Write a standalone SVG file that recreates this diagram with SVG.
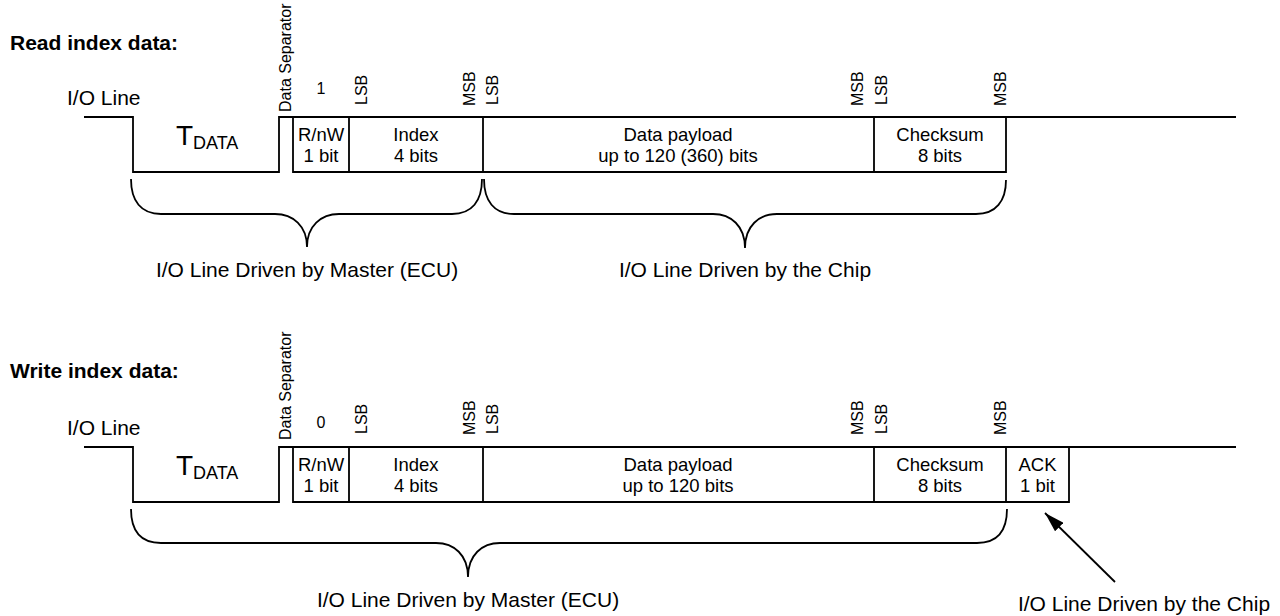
<svg xmlns="http://www.w3.org/2000/svg" width="1280" height="616" viewBox="0 0 1280 616">
<style>
text{font-family:"Liberation Sans",Arial,sans-serif;fill:#000}
.title{font-size:21px;font-weight:bold}
.lbl{font-size:21px}
.box{font-size:18.5px;text-anchor:middle}
.rot{font-size:16px}
.one{font-size:16px;text-anchor:middle}
.mid{text-anchor:middle}
.ln{fill:none;stroke:#000;stroke-width:1.8;stroke-linejoin:miter}
.br{fill:none;stroke:#000;stroke-width:1.8}
</style>
<defs>
<marker id="ah" viewBox="0 0 20 12" refX="20" refY="6" markerWidth="20" markerHeight="12" markerUnits="userSpaceOnUse" orient="auto">
<path d="M0,0 L20,6 L0,12 Z" fill="#000"/>
</marker>
</defs>
<rect width="1280" height="616" fill="#fff"/>

<g id="read">
<text class="title" x="10" y="50">Read index data:</text>
<text class="lbl" x="67" y="105">I/O Line</text>
<g id="read-wave">
<path class="ln" d="M84,117 H133 V172 H279 V117 H1236"/>
<path class="ln" d="M293,117 V172 H1006 V117"/>
<path class="ln" d="M349,117 V172 M483,117 V172 M874,117 V172"/>
</g>
<g id="read-tdata">
<text x="176" y="145" font-size="28">T</text>
<text x="193" y="149" font-size="18">DATA</text>
</g>
<g id="read-labels">
<text class="rot" transform="translate(291,112) rotate(-90)">Data Separator</text>
<text class="one" x="321" y="94">1</text>
<text class="rot" transform="translate(367,105) rotate(-90)">LSB</text>
<text class="rot" transform="translate(475,106) rotate(-90)">MSB</text>
<text class="rot" transform="translate(498,105) rotate(-90)">LSB</text>
<text class="rot" transform="translate(863,106) rotate(-90)">MSB</text>
<text class="rot" transform="translate(887,105) rotate(-90)">LSB</text>
<text class="rot" transform="translate(1006,106) rotate(-90)">MSB</text>
</g>
<g id="read-rnw"><text class="box" x="321" y="141">R/nW</text><text class="box" x="321" y="162">1 bit</text></g>
<g id="read-index"><text class="box" x="416" y="141">Index</text><text class="box" x="416" y="162">4 bits</text></g>
<g id="read-payload"><text class="box" x="678" y="141">Data payload</text><text class="box" x="678" y="162">up to 120 (360) bits</text></g>
<g id="read-checksum"><text class="box" x="940" y="141">Checksum</text><text class="box" x="940" y="162">8 bits</text></g>
<g id="read-master"><text class="lbl mid" x="307" y="277">I/O Line Driven by Master (ECU)</text></g>
<g id="read-chip"><text class="lbl mid" x="745" y="277">I/O Line Driven by the Chip</text></g>
</g>

<g id="write">
<text class="title" x="10" y="378">Write index data:</text>
<text class="lbl" x="67" y="435">I/O Line</text>
<g id="write-wave">
<path class="ln" d="M84,447 H133 V502 H279 V447 H1236"/>
<path class="ln" d="M293,447 V502 H1069 V447"/>
<path class="ln" d="M349,447 V502 M483,447 V502 M874,447 V502 M1006,447 V502"/>
</g>
<g id="write-tdata">
<text x="176" y="475" font-size="28">T</text>
<text x="193" y="479" font-size="18">DATA</text>
</g>
<g id="write-labels">
<text class="rot" transform="translate(291,440) rotate(-90)">Data Separator</text>
<text class="one" x="321" y="428">0</text>
<text class="rot" transform="translate(367,434) rotate(-90)">LSB</text>
<text class="rot" transform="translate(475,435) rotate(-90)">MSB</text>
<text class="rot" transform="translate(498,434) rotate(-90)">LSB</text>
<text class="rot" transform="translate(863,435) rotate(-90)">MSB</text>
<text class="rot" transform="translate(887,434) rotate(-90)">LSB</text>
<text class="rot" transform="translate(1006,435) rotate(-90)">MSB</text>
</g>
<g id="write-rnw"><text class="box" x="321" y="471">R/nW</text><text class="box" x="321" y="492">1 bit</text></g>
<g id="write-index"><text class="box" x="416" y="471">Index</text><text class="box" x="416" y="492">4 bits</text></g>
<g id="write-payload"><text class="box" x="678" y="471">Data payload</text><text class="box" x="678" y="492">up to 120 bits</text></g>
<g id="write-checksum"><text class="box" x="940" y="471">Checksum</text><text class="box" x="940" y="492">8 bits</text></g>
<g id="write-ack"><text class="box" x="1037.5" y="471">ACK</text><text class="box" x="1037.5" y="492">1 bit</text></g>
<g id="write-master"><text class="lbl mid" x="468" y="607">I/O Line Driven by Master (ECU)</text></g>
<g id="write-chip"><text class="lbl mid" x="1144" y="611">I/O Line Driven by the Chip</text></g>
</g>

<g id="connectors">
<path class="br" d="M131,179 C131,201 141,214 161,214 L275,214 C293,214 307,226 307,247 C307,226 321,214 339,214 L452,214 C472,214 482,201 482,179"/>
<path class="br" d="M484,179 C484,201 494,214 514,214 L713,214 C731,214 745,226 745,248 C745,226 759,214 777,214 L976,214 C996,214 1006,201 1006,180"/>
<path class="br" d="M131,509 C131,531 141,543 161,543 L436,543 C454,543 468,555 468,577 C468,555 482,543 500,543 L977,543 C997,543 1007,531 1007,509"/>
<line x1="1115" y1="582" x2="1045" y2="513" stroke="#000" stroke-width="1.8" marker-end="url(#ah)"/>
</g>
</svg>
